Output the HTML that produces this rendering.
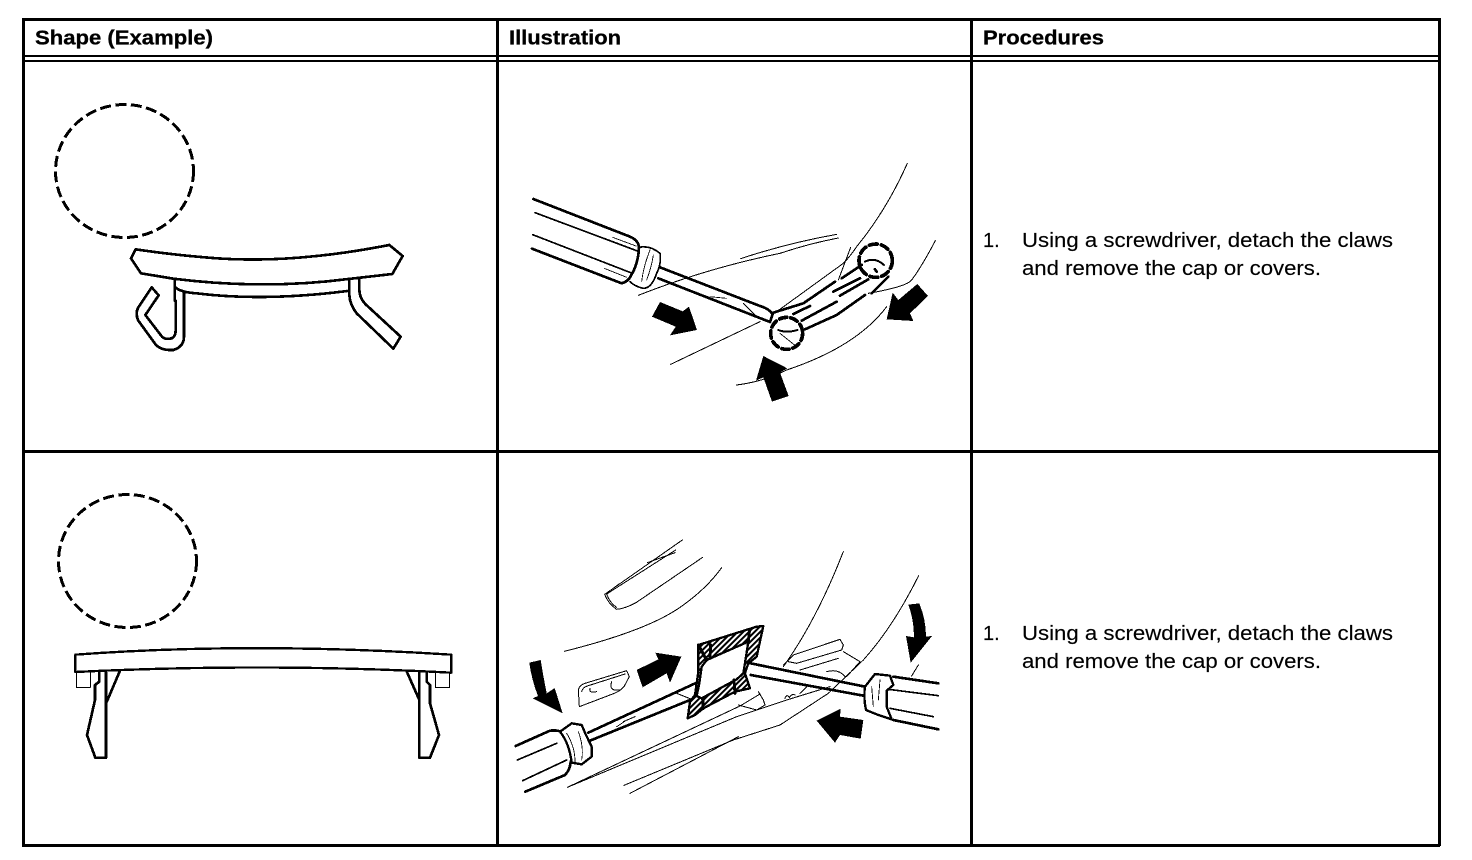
<!DOCTYPE html>
<html><head><meta charset="utf-8"><style>
html,body{margin:0;padding:0;background:#fff;width:1472px;height:860px;overflow:hidden}
svg{display:block}
text{font-family:"Liberation Sans",sans-serif;fill:#000}
.h{font-weight:bold;font-size:20px;stroke:#000;stroke-width:.3}
.t{font-size:20px;stroke:#000;stroke-width:.15}
</style></head><body>
<svg width="1472" height="860" viewBox="0 0 1472 860" xmlns="http://www.w3.org/2000/svg">
<defs>
<pattern id="hatch" width="12" height="12" patternUnits="userSpaceOnUse" patternTransform="rotate(45)">
<rect width="12" height="12" fill="#fff"/>
<rect width="6" height="12" fill="#000"/>
</pattern>
</defs>
<rect width="1472" height="860" fill="#fff"/>
<!-- table -->
<g fill="#000">
<rect x="22" y="18" width="1418" height="3"/>
<rect x="22" y="18" width="3" height="828"/>
<rect x="1438" y="18" width="3" height="828"/>
<rect x="22" y="844" width="1418" height="3"/>
<rect x="496" y="18" width="3" height="828"/>
<rect x="970" y="18" width="3" height="828"/>
<rect x="22" y="55" width="1418" height="2"/>
<rect x="22" y="60" width="1418" height="2"/>
<rect x="22" y="450" width="1418" height="3"/>
</g>
<text class="h" x="35" y="44.500" textLength="178" lengthAdjust="spacingAndGlyphs">Shape (Example)</text>
<text class="h" x="509" y="44.500" textLength="112" lengthAdjust="spacingAndGlyphs">Illustration</text>
<text class="h" x="983" y="44.500" textLength="121" lengthAdjust="spacingAndGlyphs">Procedures</text>
<text class="t" x="983" y="247">1.</text>
<text class="t" x="1022" y="247" textLength="371" lengthAdjust="spacingAndGlyphs">Using a screwdriver, detach the claws</text>
<text class="t" x="1022" y="275" textLength="299" lengthAdjust="spacingAndGlyphs">and remove the cap or covers.</text>
<text class="t" x="983" y="640">1.</text>
<text class="t" x="1022" y="640" textLength="371" lengthAdjust="spacingAndGlyphs">Using a screwdriver, detach the claws</text>
<text class="t" x="1022" y="668" textLength="299" lengthAdjust="spacingAndGlyphs">and remove the cap or covers.</text>

<g shape-rendering="crispEdges">
<!-- dashed circles -->
<ellipse cx="124.500" cy="171" rx="69" ry="66.500" fill="none" stroke="#000" stroke-width="3" stroke-dasharray="11 4.500"/>
<ellipse cx="127.500" cy="561" rx="69" ry="66.500" fill="none" stroke="#000" stroke-width="3" stroke-dasharray="11 4.500"/>

<!-- shape 1 -->
<g transform="translate(30,230) scale(.33333)" fill="none" stroke="#000" stroke-width="8" stroke-linejoin="round" stroke-linecap="round">
<path d="M317,58 L303,85 L333,130 L430,146 Q700,180 955,147 L1087,132 L1118,78 L1078,45 Q960,68 860,78 Q700,95 560,85 Q430,75 317,58 Z"/>
<path d="M434,150 V212"/>
<path d="M434,170 Q450,187 500,190 Q700,215 952,183"/>
<path d="M365,172 L386,196 L346,255 L396,320 Q405,330 425,325 Q437,320 437,300 V212"/>
<path d="M365,172 L325,232 Q315,250 325,272 L378,345 Q395,362 430,360 Q462,350 462,320 V190"/>
<path d="M958,150 V195 Q960,225 980,250 L1090,356 L1112,320 L1008,224 Q988,205 988,178 V148"/>
</g>

<!-- shape 2 -->
<g transform="translate(50,640) scale(.33333)" fill="none" stroke="#000" stroke-width="8" stroke-linejoin="round">
<path d="M76,44 Q600,5 1204,44 V98 Q640,68 76,96 Z" stroke-width="7"/>
<path d="M79,98 V142 H121 V98" stroke-width="3"/>
<path d="M1156,98 V142 H1199 V98" stroke-width="3"/>
<path d="M148,96 V125 L135,135 V180 L111,285 L136,353 H168 V96"/>
<path d="M210,92 L170,186"/>
<path d="M1130,96 V125 L1140,135 V190 L1167,285 L1140,353 H1108 V96"/>
<path d="M1070,94 L1108,180"/>
</g>

<!-- illustration 1 -->
<g transform="translate(510,150) scale(.33333)" fill="none" stroke="#000" stroke-linejoin="round" stroke-linecap="round">
<g stroke-width="3">
<path d="M1192,40 Q1130,180 1040,290 Q1020,320 1000,340 L800,485"/>
<path d="M1022,292 L985,390"/>
<path d="M1276,272 Q1235,350 1205,390 Q1190,410 1075,430"/>
<path d="M680,705 Q760,695 830,660 Q1040,590 1130,470"/>
<path d="M385,436 Q590,355 810,310 Q900,280 985,264"/>
<path d="M692,326 Q830,280 980,253"/>
<path d="M482,643 L750,515"/>
</g>
<g stroke-width="8">
<path d="M70,147 L360,260 Q385,270 387,292"/>
<path d="M66,296 L335,400 Q355,395 364,375 Q385,340 387,292"/>
<path d="M450,352 L750,468 Q775,475 788,492 L780,516 L445,385"/>
<path d="M790,488 L880,460 L975,395"/>
<path d="M850,492 L900,468"/>
<path d="M875,512 L980,455"/>
<path d="M885,538 L980,495 L1065,435"/>
<path d="M970,425 L1050,385"/>
<path d="M995,385 L1055,345"/>
<path d="M990,437 L1075,388"/>
<path d="M1085,430 L1135,380"/>
</g>
<g stroke-width="5">
<path d="M75,188 L385,304"/>
<path d="M68,254 L362,368"/>
<path d="M387,292 Q420,285 450,310 Q455,340 440,370 Q425,415 400,415 Q375,410 360,395"/>
</g>
<circle cx="1097" cy="332" r="50" stroke-width="11" stroke-dasharray="24 12"/>
<circle cx="830" cy="550" r="48" stroke-width="11" stroke-dasharray="22 12"/>
<path d="M1065,335 Q1095,320 1122,345 M805,540 Q830,550 862,540" stroke-width="6"/>
<path d="M1095,358 L1100,365" stroke-width="8"/>
<g stroke-width="2.500">
<path d="M308,262 L378,288 M283,355 L350,382 M420,300 Q400,350 395,395 M430,315 Q425,350 410,390 M700,460 L745,505 M600,440 L650,445 M810,550 L860,590"/>
</g>
<g fill="#000" stroke="none">
<path d="M450,456 L518,484 L537,470 L561,540 L480,556 L497,530 L426,500 Z"/>
<path d="M1222,402 L1254,438 L1200,490 L1210,513 L1130,508 L1148,428 L1165,450 Z"/>
<path d="M760,618 L832,655 L810,668 L836,738 L786,755 L760,682 L738,692 Z"/>
</g>
</g>

<!-- illustration 2 -->
<g transform="translate(510,530) scale(.33333)" fill="none" stroke="#000" stroke-linejoin="round" stroke-linecap="round">
<g stroke-width="3">
<path d="M517,30 L284,193 Q295,222 320,238 Q345,236 378,218 L578,82"/>
<path d="M497,60 L290,192 Q300,220 320,232 M495,68 L412,98 M330,160 L300,182"/>
<path d="M163,364 Q420,300 520,225 Q590,175 635,113"/>
<path d="M1000,65 Q920,270 820,410"/>
<path d="M172,772 L690,528 L750,492"/>
<path d="M172,772 L680,560 L830,510 L960,470"/>
<path d="M342,766 L670,630 L810,585 L955,490 L1060,390 Q1150,290 1226,137"/>
<path d="M360,790 L685,620"/>
<path d="M820,405 L850,375 L990,328 L1000,345 L995,360 L860,400 L835,395"/>
<path d="M870,420 L985,385 M1000,365 L1050,395 L1010,440 M950,425 Q985,415 1005,440"/>
<path d="M685,525 L740,540 L765,525 L760,510 L745,485 M825,505 Q830,490 838,503 Q845,490 855,495 M870,490 Q880,480 890,470"/>
<path d="M205,480 Q208,465 225,460 L350,422 L358,440 L342,470 Q330,485 300,495 L208,530 Z"/>
<path d="M215,485 Q218,472 232,468 L345,432 M240,475 Q235,490 260,485 M305,455 Q295,485 330,480"/>
<path d="M340,575 L375,560 M500,490 L550,510 M1205,438 L1225,405"/>
</g>
<g stroke-width="8">
<path d="M17,648 L120,602 Q145,600 150,605"/>
<path d="M46,785 L165,735 Q180,720 182,695"/>
<path d="M235,608 L560,458"/>
<path d="M240,632 L540,510"/>
<path d="M712,398 L1065,470"/>
<path d="M722,435 L1060,497"/>
<path d="M1150,440 L1285,460"/>
<path d="M1150,570 L1285,598"/>
<path d="M150,605 L185,580 L215,585 L228,615 L245,650 L245,680 L215,703 L185,698 Q178,640 150,605 Z" stroke-width="7"/>
<path d="M1065,470 L1095,432 L1140,437 L1150,465 L1130,482 L1130,530 L1145,568 L1105,555 L1068,540 Q1060,505 1065,470 Z" stroke-width="7"/>
</g>
<g stroke-width="5">
<path d="M22,690 L140,640"/>
<path d="M38,752 L170,690"/>
<path d="M1135,478 L1285,497"/>
<path d="M1140,535 L1270,560"/>
</g>
<g stroke-width="2.500">
<path d="M170,610 Q195,650 195,695 M205,605 Q222,650 215,690 M1085,470 L1090,530 M1110,450 L1105,510 M320,590 L350,570"/>
</g>
<!-- hatched frame -->
<path fill-rule="evenodd" d="M565,345 L740,290 L760,288 L740,380 L715,400 L705,430 L720,475 L675,485 L580,535 L555,555 L533,565 L540,515 L555,495 L565,425 Z M590,390 L575,410 L568,460 L560,498 L575,505 L680,448 L700,430 L708,380 L715,335 Z" fill="url(#hatch)" stroke="#000" stroke-width="7"/>
<path d="M602,345 L600,385 M718,305 L715,335 M672,450 L675,490 M578,505 L580,535 M565,345 L590,390" stroke="#000" stroke-width="9"/>
<g fill="#000" stroke="none">
<path d="M58,398 L92,390 Q100,440 110,490 L134,474 L158,550 L68,505 L84,498 Q65,450 58,398 Z"/>
<path d="M1195,224 L1228,220 Q1248,270 1248,320 L1266,318 L1202,398 L1188,318 L1212,322 Q1212,270 1195,224 Z"/>
<path d="M380,420 L445,388 L436,368 L514,380 L480,458 L470,430 L398,472 Z"/>
<path d="M1060,570 L1052,626 L990,615 L975,638 L920,572 L992,536 L990,560 Z"/>
</g>
</g>
</g>
</svg>
</body></html>
